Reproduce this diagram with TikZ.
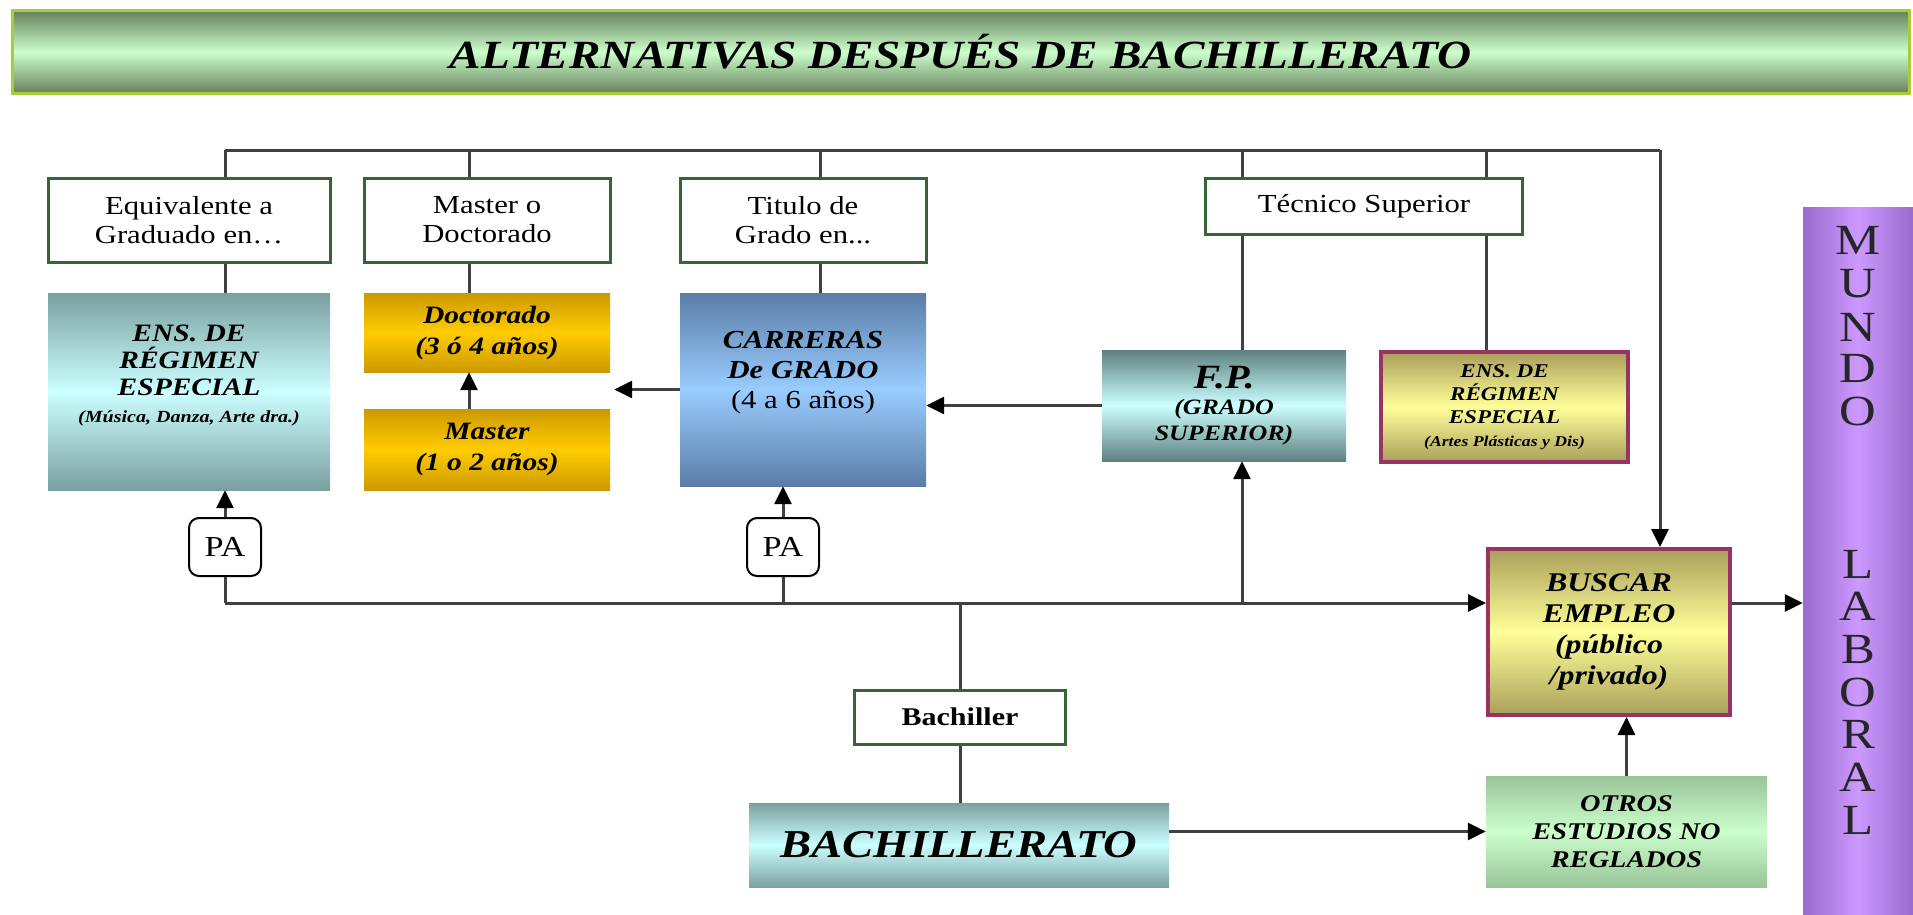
\documentclass[tikz,border=0pt]{standalone}
\usepackage{fontspec}
\setmainfont{Liberation Serif}[FakeStretch=1.18]
\usetikzlibrary{arrows.meta}
\definecolor{verdeosc}{HTML}{667F5C}
\definecolor{verdecla}{HTML}{CCFFCC}
\definecolor{verdeotr}{HTML}{99C499}
\definecolor{borde}{HTML}{336633}
\definecolor{lima}{HTML}{A8CC3C}
\definecolor{tealosc}{HTML}{7BA0A0}
\definecolor{tealfp}{HTML}{5F8080}
\definecolor{cian}{HTML}{CCFFFF}
\definecolor{oroosc}{HTML}{CC9900}
\definecolor{oro}{HTML}{FFCC00}
\definecolor{azulosc}{HTML}{5B7DA6}
\definecolor{azul}{HTML}{99CCFF}
\definecolor{amarosc}{HTML}{A9A05A}
\definecolor{amar}{HTML}{FFFF99}
\definecolor{granate}{HTML}{993366}
\definecolor{lilaosc}{HTML}{9A6ACC}
\definecolor{lila}{HTML}{CC99FF}
\newcommand{\tam}[2]{\fontsize{#1}{#2}\selectfont}
\newcommand{\bi}{\bfseries\itshape}

\begin{document}
\begin{tikzpicture}[x=1pt,y=-1pt]
\tikzstyle{flecha} = [-{Triangle[length=18pt,width=17pt,color=black]}]
\tikzstyle{linea} = [draw=black!75, line width=3pt]
\tikzstyle{etiqueta} = [draw=borde, line width=3pt, fill=white, align=center, inner sep=0pt, font=\tam{26}{29}]
\tikzstyle{caja} = [align=center, inner sep=0pt, font=\bi\tam{25}{27}]
\tikzstyle{teal} = [top color=tealosc, bottom color=tealosc, middle color=cian]
\tikzstyle{dorado} = [top color=oroosc, bottom color=oroosc, middle color=oro]
\tikzstyle{amarillo} = [top color=amarosc, bottom color=amarosc, middle color=amar, draw=granate, line width=4pt]
\tikzstyle{pa} = [draw=black, line width=2pt, fill=white, rounded corners=10pt, minimum width=72pt, minimum height=58pt, font=\tam{29}{31}]
\useasboundingbox (0,0) rectangle (1913,914);

\node[caja, draw=lima, line width=3pt, top color=verdeosc, bottom color=verdeosc, middle color=verdecla, minimum width=1897pt, minimum height=83pt, font=\bi\tam{40}{44}] (cabecera) at (960.5,52) {ALTERNATIVAS DESPUÉS DE BACHILLERATO};

\node[etiqueta, minimum width=282pt, minimum height=84pt] (equiv) at (189,220) {Equivalente a\\Graduado en…};
\node[etiqueta, minimum width=246pt, minimum height=84pt] (master0) at (487,220) {Master o\\Doctorado};
\node[etiqueta, minimum width=246pt, minimum height=84pt] (grado) at (803,220) {Titulo de\\Grado en...};
\node[etiqueta, minimum width=317pt, minimum height=56pt] (tecnico) at (1364,206) {Técnico Superior};

\node[caja, teal, minimum width=282pt, minimum height=197pt] (ensl) at (189,391.5) {ENS. DE\\RÉGIMEN\\ESPECIAL\\\tam{17}{20}(Música, Danza, Arte dra.)\\[8pt]};
\node[caja, dorado, minimum width=246pt, minimum height=79pt, font=\bi\tam{25}{31}] (doct) at (487,332.5) {Doctorado\\(3 ó 4 años)};
\node[caja, dorado, minimum width=246pt, minimum height=81pt, font=\bi\tam{25}{31}] (mast) at (487,449.5) {Master\\(1 o 2 años)};
\node[caja, top color=azulosc, bottom color=azulosc, middle color=azul, minimum width=246pt, minimum height=193pt, font=\bi\tam{26}{30}] (carr) at (803,389.5) {CARRERAS\\De GRADO\\\normalfont\tam{26}{30}(4 a 6 años)\\[10pt]};
\node[caja, top color=tealfp, bottom color=tealfp, middle color=cian, minimum width=244pt, minimum height=111pt, font=\bi\tam{22}{26}] (fp) at (1224,405.5) {\tam{34}{38}F.P.\\(GRADO\\SUPERIOR)};
\node[caja, amarillo, minimum width=247pt, minimum height=110pt, font=\bi\tam{19.5}{23}] (ensr) at (1504.5,407) {ENS. DE\\RÉGIMEN\\ESPECIAL\\\tam{15}{20}(Artes Plásticas y Dis)};

\node[pa] (pa1) at (225,547) {PA};
\node[pa] (pa2) at (783,547) {PA};

\node[caja, amarillo, minimum width=242pt, minimum height=166pt, font=\bi\tam{27}{31}] (buscar) at (1609,632) {BUSCAR\\EMPLEO\\(público\\/privado)};
\node[etiqueta, minimum width=211pt, minimum height=54pt, font=\bfseries\tam{25.5}{28}] (bachiller) at (960,717) {Bachiller};
\node[caja, teal, minimum width=420pt, minimum height=84pt, font=\bi\tam{39.5}{42}] (bach) at (959,845) {BACHILLERATO};
\node[caja, top color=verdeotr, bottom color=verdeotr, middle color=verdecla, minimum width=281pt, minimum height=111pt, font=\bi\tam{24}{28}] (otros) at (1626.5,831.5) {OTROS\\ESTUDIOS NO\\REGLADOS};

\node[inner sep=0pt, left color=lilaosc, right color=lilaosc, middle color=lila, minimum width=110pt, minimum height=707pt] (mundo) at (1858,560.5) {};
\foreach \l/\y [count=\i] in {M/240,U/284,N/327,D/368,O/411,L/564,A/606,B/649,O/692,R/734,A/777,L/820}
  \node[inner sep=0pt, font=\tam{43}{45}, text=black!85] (letra\i) at (1858,\y) {\l};

\coordinate (t1) at (225,150);
\coordinate (t2) at (469,150);
\coordinate (t3) at (820,150);
\coordinate (t4) at (1242,150);
\coordinate (t5) at (1486,150);
\coordinate (t6) at (1660,150);
\coordinate (b1) at (225,603);
\coordinate (b2) at (783,603);
\coordinate (b3) at (960,603);
\coordinate (b4) at (1242,603);

\draw[linea] (t1) -- (t6);
\draw[linea,flecha] (t6) -- (buscar.north -| t6);
\draw[linea] (t1) -- (equiv.north -| t1);
\draw[linea] (equiv.south -| t1) -- (ensl.north -| t1);
\draw[linea] (t2) -- (master0.north -| t2);
\draw[linea] (master0.south -| t2) -- (doct.north -| t2);
\draw[linea] (t3) -- (grado.north -| t3);
\draw[linea] (grado.south -| t3) -- (carr.north -| t3);
\draw[linea] (t4) -- (tecnico.north -| t4);
\draw[linea] (tecnico.south -| t4) -- (fp.north -| t4);
\draw[linea] (t5) -- (tecnico.north -| t5);
\draw[linea] (tecnico.south -| t5) -- (ensr.north -| t5);

\draw[linea,flecha] (mast.north -| t2) -- (doct.south -| t2);
\draw[linea,flecha,shorten >=4pt] (carr.west) -- (doct.east |- carr.west);
\draw[linea,flecha] (fp.west) -- (carr.east |- fp.west);

\draw[linea,flecha] (pa1.north) -- (ensl.south -| pa1);
\draw[linea,flecha] (pa2.north) -- (carr.south -| pa2);
\draw[linea] (pa1.south) -- (b1);
\draw[linea] (pa2.south) -- (b2);
\draw[linea,flecha] (b1) -- (buscar.west |- b1);
\draw[linea,flecha] (b4) -- (fp.south -| b4);
\draw[linea] (bachiller.north) -- (b3);
\draw[linea] (bachiller.south) -- (bach.north -| bachiller);

\draw[linea,flecha] (bach.east |- otros.west) -- (otros.west);
\draw[linea,flecha] (otros.north) -- (buscar.south -| otros.north);
\draw[linea,flecha] (buscar.east |- b1) -- (mundo.west |- b1);
\end{tikzpicture}
\end{document}
